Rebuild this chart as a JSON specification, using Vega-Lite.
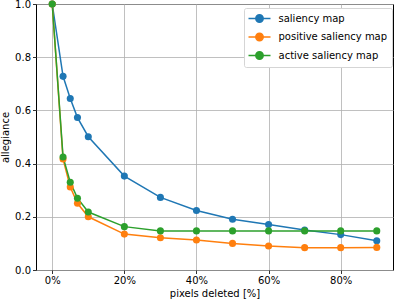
{
  "$schema": "https://vega.github.io/schema/vega-lite/v6.json",
  "width": 357,
  "height": 266,
  "autosize": "none",
  "padding": {"left": 36, "top": 4, "right": 1, "bottom": 31},
  "config": {
    "font": "DejaVu Sans",
    "view": {"stroke": "#000000", "strokeWidth": 1},
    "axis": {
      "domain": false,
      "grid": true,
      "gridColor": "#b0b0b0",
      "gridWidth": 0.8,
      "tickColor": "#000000",
      "tickSize": 3.5,
      "tickWidth": 0.8,
      "labelFontSize": 10,
      "labelColor": "#000000",
      "titleFontSize": 10,
      "titleFontWeight": "normal",
      "titleColor": "#000000",
      "labelPadding": 2
    }
  },
  "data": {
    "values": [
      {"x": 0.0, "v": 1.0, "s": "saliency map"},
      {"x": 0.03, "v": 0.728, "s": "saliency map"},
      {"x": 0.05, "v": 0.645, "s": "saliency map"},
      {"x": 0.07, "v": 0.573, "s": "saliency map"},
      {"x": 0.1, "v": 0.501, "s": "saliency map"},
      {"x": 0.2, "v": 0.353, "s": "saliency map"},
      {"x": 0.3, "v": 0.273, "s": "saliency map"},
      {"x": 0.4, "v": 0.224, "s": "saliency map"},
      {"x": 0.5, "v": 0.191, "s": "saliency map"},
      {"x": 0.6, "v": 0.171, "s": "saliency map"},
      {"x": 0.7, "v": 0.150, "s": "saliency map"},
      {"x": 0.8, "v": 0.133, "s": "saliency map"},
      {"x": 0.9, "v": 0.110, "s": "saliency map"},
      {"x": 0.0, "v": 1.0, "s": "positive saliency map"},
      {"x": 0.03, "v": 0.417, "s": "positive saliency map"},
      {"x": 0.05, "v": 0.312, "s": "positive saliency map"},
      {"x": 0.07, "v": 0.251, "s": "positive saliency map"},
      {"x": 0.1, "v": 0.200, "s": "positive saliency map"},
      {"x": 0.2, "v": 0.135, "s": "positive saliency map"},
      {"x": 0.3, "v": 0.121, "s": "positive saliency map"},
      {"x": 0.4, "v": 0.113, "s": "positive saliency map"},
      {"x": 0.5, "v": 0.100, "s": "positive saliency map"},
      {"x": 0.6, "v": 0.090, "s": "positive saliency map"},
      {"x": 0.7, "v": 0.084, "s": "positive saliency map"},
      {"x": 0.8, "v": 0.084, "s": "positive saliency map"},
      {"x": 0.9, "v": 0.085, "s": "positive saliency map"},
      {"x": 0.0, "v": 1.0, "s": "active saliency map"},
      {"x": 0.03, "v": 0.425, "s": "active saliency map"},
      {"x": 0.05, "v": 0.330, "s": "active saliency map"},
      {"x": 0.07, "v": 0.270, "s": "active saliency map"},
      {"x": 0.1, "v": 0.218, "s": "active saliency map"},
      {"x": 0.2, "v": 0.163, "s": "active saliency map"},
      {"x": 0.3, "v": 0.147, "s": "active saliency map"},
      {"x": 0.4, "v": 0.147, "s": "active saliency map"},
      {"x": 0.5, "v": 0.147, "s": "active saliency map"},
      {"x": 0.6, "v": 0.147, "s": "active saliency map"},
      {"x": 0.7, "v": 0.147, "s": "active saliency map"},
      {"x": 0.8, "v": 0.147, "s": "active saliency map"},
      {"x": 0.9, "v": 0.147, "s": "active saliency map"}
    ]
  },
  "mark": {"type": "line", "strokeWidth": 1.5, "point": {"filled": true, "size": 50, "opacity": 1}},
  "encoding": {
    "x": {
      "field": "x",
      "type": "quantitative",
      "scale": {"domain": [-0.045, 0.945], "nice": false, "zero": false},
      "axis": {"values": [0, 0.2, 0.4, 0.6, 0.8], "format": ".0%", "title": "pixels deleted [%]", "titlePadding": 3}
    },
    "y": {
      "field": "v",
      "type": "quantitative",
      "scale": {"domain": [0, 1], "nice": false},
      "axis": {"values": [0, 0.2, 0.4, 0.6, 0.8, 1.0], "format": ".1f", "title": "allegiance", "titlePadding": 4}
    },
    "color": {
      "field": "s",
      "type": "nominal",
      "scale": {
        "domain": ["saliency map", "positive saliency map", "active saliency map"],
        "range": ["#1f77b4", "#ff7f0e", "#2ca02c"]
      },
      "legend": {
        "title": null,
        "orient": "none",
        "legendX": 208,
        "legendY": 4,
        "fillColor": "#ffffff",
        "strokeColor": "#d5d5d5",
        "cornerRadius": 2,
        "padding": 4.5,
        "labelFontSize": 10,
        "labelColor": "#000000",
        "rowPadding": 4.5,
        "symbolType": "M-1.2,0H3.2M0.26,0A0.74,0.74 0 1,0 1.74,0A0.74,0.74 0 1,0 0.26,0Z",
        "symbolSize": 100,
        "symbolStrokeWidth": 1.5,
        "labelOffset": 18,
        "encode": {
          "symbols": {
            "update": {
              "fill": {"scale": "color", "field": "value"},
              "stroke": {"scale": "color", "field": "value"},
              "opacity": {"value": 1}
            }
          }
        }
      }
    }
  }
}
